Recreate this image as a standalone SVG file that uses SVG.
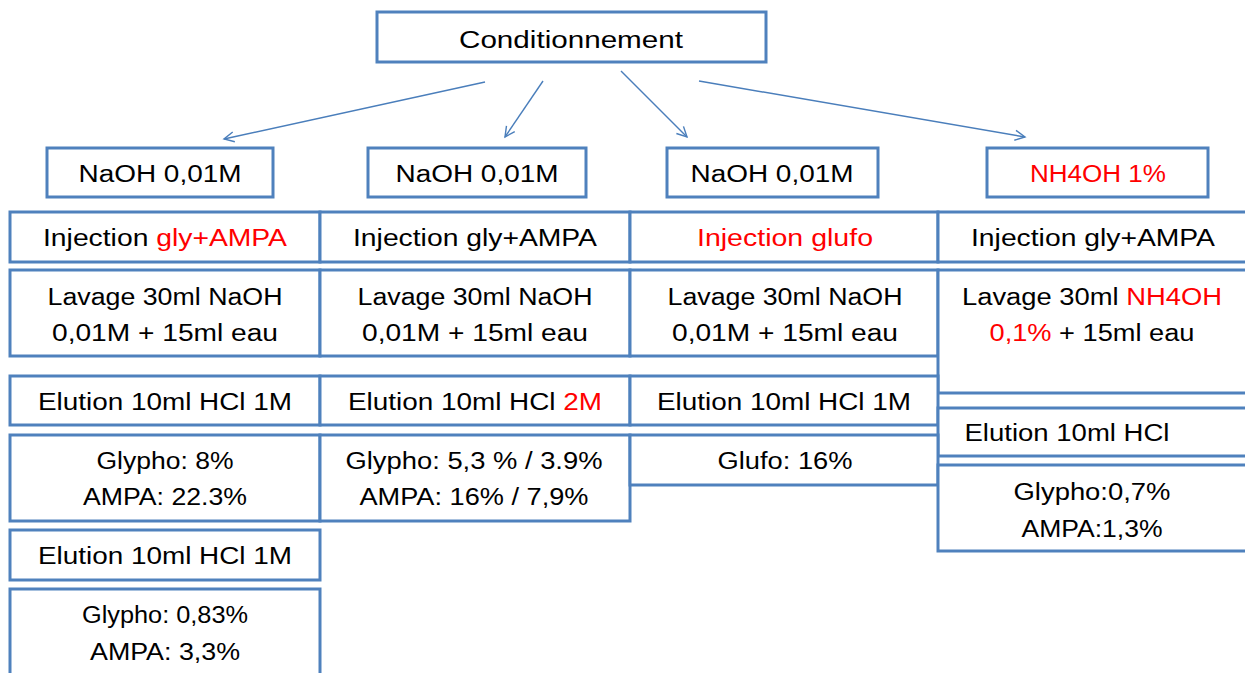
<svg xmlns="http://www.w3.org/2000/svg" width="1245" height="673" viewBox="0 0 1245 673">
<defs>
<marker id="ah" markerWidth="14" markerHeight="14" refX="11" refY="6" orient="auto" markerUnits="userSpaceOnUse">
<path d="M1,1 L11,6 L1,11" fill="none" stroke="#4A7EBB" stroke-width="1.4"/>
</marker>
<style>
rect{fill:#fff;stroke:#4F81BD;stroke-width:3}
text{font-family:"Liberation Sans",Arial,sans-serif;font-size:23px;fill:#000;text-anchor:middle}
.r{fill:#FF0000}
.c line{stroke:#4A7EBB;stroke-width:1.4;marker-end:url(#ah)}
</style>
</defs>
<rect width="1245" height="673" style="fill:#fff;stroke:none"/>
<g id="n0"><rect x="377" y="12" width="389" height="50"/><text x="571" y="48" textLength="224" lengthAdjust="spacingAndGlyphs">Conditionnement</text></g>
<g class="c" id="connectors">
<line x1="485" y1="82" x2="224" y2="139"/>
<line x1="543" y1="81" x2="505" y2="137"/>
<line x1="621" y1="71" x2="687" y2="137"/>
<line x1="699" y1="81" x2="1025" y2="137"/>
</g>
<g id="a1"><rect x="47" y="148" width="226" height="49"/><text x="160" y="182" textLength="163" lengthAdjust="spacingAndGlyphs">NaOH 0,01M</text></g>
<g id="a2"><rect x="368" y="148" width="218" height="49"/><text x="477" y="182" textLength="163" lengthAdjust="spacingAndGlyphs">NaOH 0,01M</text></g>
<g id="a3"><rect x="667" y="148" width="211" height="49"/><text x="772" y="182" textLength="163" lengthAdjust="spacingAndGlyphs">NaOH 0,01M</text></g>
<g id="a4"><rect x="987" y="148" width="221" height="49"/><text x="1098" y="182" textLength="136" lengthAdjust="spacingAndGlyphs" class="r">NH4OH 1%</text></g>

<g id="i1"><rect x="10" y="212" width="310" height="50"/><text x="165" y="246" textLength="244" lengthAdjust="spacingAndGlyphs">Injection <tspan class="r">gly+AMPA</tspan></text></g>
<g id="i2"><rect x="320" y="212" width="310" height="50"/><text x="475" y="246" textLength="244" lengthAdjust="spacingAndGlyphs">Injection gly+AMPA</text></g>
<g id="i3"><rect x="630" y="212" width="308" height="50"/><text x="785" y="246" textLength="176" lengthAdjust="spacingAndGlyphs" class="r">Injection glufo</text></g>
<g id="i4"><rect x="938" y="212" width="312" height="50"/><text x="1093" y="246" textLength="244" lengthAdjust="spacingAndGlyphs">Injection gly+AMPA</text></g>

<g id="l1"><rect x="10" y="270" width="310" height="86"/><text x="165" y="305" textLength="235" lengthAdjust="spacingAndGlyphs">Lavage 30ml NaOH</text><text x="165" y="341" textLength="226" lengthAdjust="spacingAndGlyphs">0,01M + 15ml eau</text></g>
<g id="l2"><rect x="320" y="270" width="310" height="86"/><text x="475" y="305" textLength="235" lengthAdjust="spacingAndGlyphs">Lavage 30ml NaOH</text><text x="475" y="341" textLength="226" lengthAdjust="spacingAndGlyphs">0,01M + 15ml eau</text></g>
<g id="l3"><rect x="630" y="270" width="308" height="86"/><text x="785" y="305" textLength="235" lengthAdjust="spacingAndGlyphs">Lavage 30ml NaOH</text><text x="785" y="341" textLength="226" lengthAdjust="spacingAndGlyphs">0,01M + 15ml eau</text></g>
<g id="l4"><rect x="938" y="270" width="312" height="123"/><text x="1092" y="305" textLength="260" lengthAdjust="spacingAndGlyphs">Lavage 30ml <tspan class="r">NH4OH</tspan></text><text x="1092" y="341" textLength="205" lengthAdjust="spacingAndGlyphs"><tspan class="r">0,1%</tspan> + 15ml eau</text></g>

<g id="e1"><rect x="10" y="376" width="310" height="49"/><text x="165" y="410" textLength="254" lengthAdjust="spacingAndGlyphs">Elution 10ml HCl 1M</text></g>
<g id="e2"><rect x="320" y="376" width="310" height="49"/><text x="475" y="410" textLength="254" lengthAdjust="spacingAndGlyphs">Elution 10ml HCl <tspan class="r">2M</tspan></text></g>
<g id="e3"><rect x="630" y="376" width="308" height="49"/><text x="784" y="410" textLength="254" lengthAdjust="spacingAndGlyphs">Elution 10ml HCl 1M</text></g>
<g id="e4"><rect x="938" y="408" width="312" height="48"/><text x="1067" y="441" textLength="205" lengthAdjust="spacingAndGlyphs">Elution 10ml HCl</text></g>

<g id="r1"><rect x="10" y="435" width="310" height="86"/><text x="165" y="469" textLength="137" lengthAdjust="spacingAndGlyphs">Glypho: 8%</text><text x="165" y="505" textLength="164" lengthAdjust="spacingAndGlyphs">AMPA: 22.3%</text></g>
<g id="r2"><rect x="320" y="435" width="310" height="86"/><text x="474" y="469" textLength="257" lengthAdjust="spacingAndGlyphs">Glypho: 5,3 % / 3.9%</text><text x="474" y="505" textLength="229" lengthAdjust="spacingAndGlyphs">AMPA: 16% / 7,9%</text></g>
<g id="r3"><rect x="630" y="435" width="308" height="50"/><text x="785" y="469" textLength="135" lengthAdjust="spacingAndGlyphs">Glufo: 16%</text></g>
<g id="r4"><rect x="938" y="465" width="312" height="86"/><text x="1092" y="500" textLength="157" lengthAdjust="spacingAndGlyphs">Glypho:0,7%</text><text x="1092" y="537" textLength="141" lengthAdjust="spacingAndGlyphs">AMPA:1,3%</text></g>

<g id="e5"><rect x="10" y="530" width="310" height="50"/><text x="165" y="564" textLength="254" lengthAdjust="spacingAndGlyphs">Elution 10ml HCl 1M</text></g>
<g id="r5"><rect x="10" y="589" width="310" height="95"/><text x="165" y="623" textLength="166" lengthAdjust="spacingAndGlyphs">Glypho: 0,83%</text><text x="165" y="660" textLength="150" lengthAdjust="spacingAndGlyphs">AMPA: 3,3%</text></g>
</svg>
